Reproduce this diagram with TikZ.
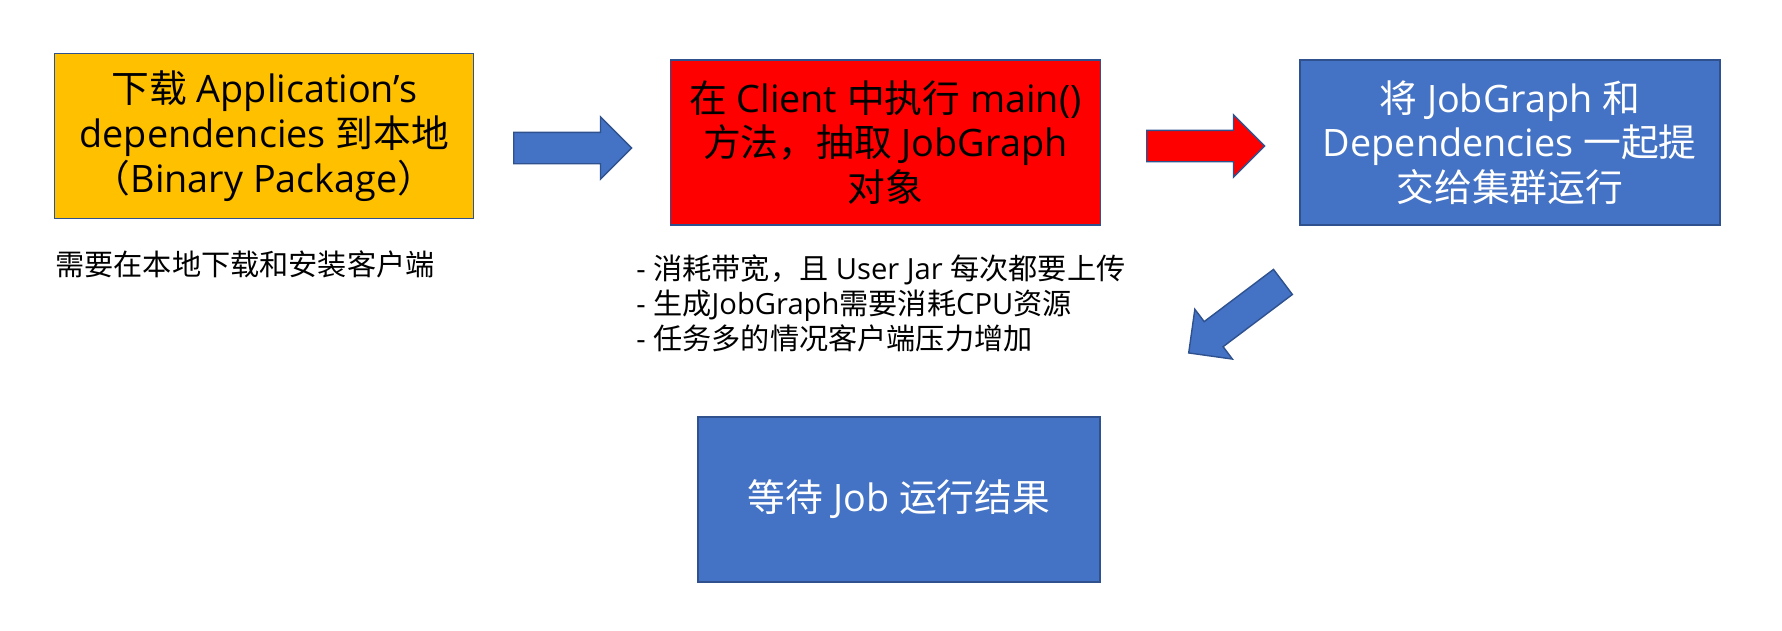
\documentclass[tikz,border=0pt]{standalone}
\usepackage{fontspec}
\setmainfont{Open Sans}
\newfontfamily\cjk{Noto Sans CJK SC}
\usetikzlibrary{shapes.arrows}
\definecolor{pptblue}{HTML}{4472C4}
\definecolor{pptedge}{HTML}{2F528F}
\definecolor{pptorange}{HTML}{FFC000}
\definecolor{pptred}{HTML}{FF0000}

\begin{document}
\begin{tikzpicture}[
  box/.style={draw=pptedge, line width=0.8pt, align=center, inner sep=0pt,
    minimum height=3.3cm, font=\fontsize{21.5}{25.4}\selectfont},
  bluebox/.style={box, fill=pptblue, text=white},
  blockarr/.style={single arrow, draw=pptedge, line width=0.8pt, fill=pptblue,
    inner xsep=0pt, inner ysep=0.3cm, single arrow head extend=0.31cm,
    minimum height=2.36cm, anchor=tail},
  note/.style={align=left, anchor=west, inner sep=0pt,
    font=\fontsize{16.6}{20}\selectfont},
]
  \useasboundingbox (0,0) rectangle (35.64,12.6);
  % --- steps ---
  \node[box, fill=pptorange, minimum width=8.38cm] (download) at (5.285,9.876)
    {{\cjk 下载} Application’s\\ dependencies {\cjk 到本地}\\
     {\cjk （}Binary Package{\cjk ）}};
  \node[box, fill=pptred, minimum width=8.6cm] (client) at (17.705,9.75)
    {{\cjk 在} Client {\cjk 中执行} main()\\ {\cjk 方法，抽取} JobGraph\\ {\cjk 对象}};
  \node[bluebox, minimum width=8.4cm] (submit) at (30.196,9.75)
    {{\cjk 将} JobGraph {\cjk 和}\\ Dependencies {\cjk 一起提}\\ {\cjk 交给集群运行}};
  \node[bluebox, minimum width=8.04cm] (wait) at (17.98,2.61)
    {{\cjk 等待} Job {\cjk 运行结果}};
  % --- notes ---
  \node[note] (localnote) at (1.1,7.32) {\cjk 需要在本地下载和安装客户端};
  \node[note] (clientnote) at (12.72,6.54)
    {- {\cjk 消耗带宽，且} User Jar {\cjk 每次都要上传}\\
     - {\cjk 生成}JobGraph{\cjk 需要消耗}CPU{\cjk 资源}\\
     - {\cjk 任务多的情况客户端压力增加}};
  % --- block arrows ---
  \node[blockarr] (arr1) at (10.26,9.64) {};
  \node[blockarr, fill=pptred] (arr2) at (22.92,9.68) {};
  \node[blockarr, rotate=217] (arr3) at (25.67,6.97) {};
\end{tikzpicture}
\end{document}
